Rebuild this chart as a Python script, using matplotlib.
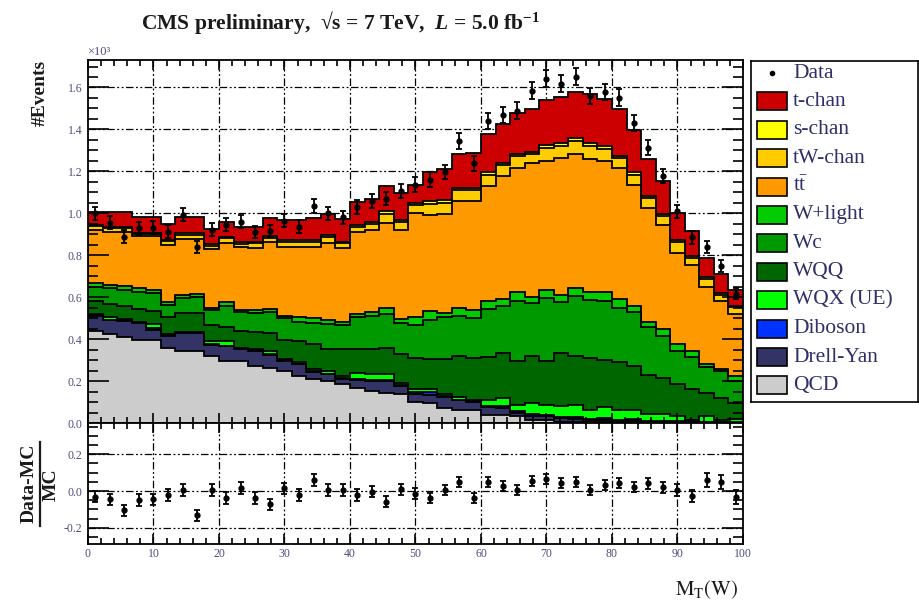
import numpy as np
import matplotlib
matplotlib.use("Agg")
import matplotlib.pyplot as plt
from matplotlib.patches import Rectangle
from matplotlib.lines import Line2D
from matplotlib.ticker import MultipleLocator, FormatStrFormatter

plt.rcParams["font.family"] = ["Liberation Serif", "DejaVu Serif"]
plt.rcParams["mathtext.fontset"] = "custom"
plt.rcParams["mathtext.rm"] = "Liberation Serif:bold"
plt.rcParams["mathtext.it"] = "Liberation Serif:bold:italic"
plt.rcParams["mathtext.bf"] = "Liberation Serif:bold"
plt.rcParams["mathtext.fallback"] = "stix"

# ---- data: M_T(W), 45 bins over 0-100, events per bin ----
MT_RANGE = (0, 100)
NBINS = 45

qcd = [437, 424, 408, 398, 398, 360, 344, 344, 320, 296, 296, 272, 260, 248, 224,
       210, 200, 184, 168, 151, 143, 140, 100, 95, 71, 63, 63, 39, 39, 31,
       15, 15, 7, 5, 4, 3, 2, 2, 1, 1, 0, 0, 0, 0, 0]
drell_yan = [75, 67, 80, 77, 47, 56, 83, 83, 53, 69, 56, 72, 65, 48, 56,
             35, 32, 26, 37, 49, 57, 35, 36, 38, 54, 45, 37, 39, 34, 19,
             20, 20, 15, 15, 11, 12, 8, 8, 5, 5, 4, 8, 3, 2, 2]
diboson = [2, 2, 2, 2, 10, 2, 2, 2, 3, 3, 3, 3, 3, 3, 3,
           3, 4, 4, 4, 4, 4, 4, 12, 13, 3, 2, 4, 5, 10, 5,
           10, 5, 8, 10, 5, 10, 5, 10, 4, 4, 4, 2, 2, 2, 2]
wqx = [6, 11, 6, 3, 17, 6, 3, 3, 16, 21, 5, 8, 16, 6, 7,
       8, 12, 12, 31, 32, 31, 12, 15, 14, 9, 12, 8, 27, 37, 30,
       50, 45, 50, 58, 44, 50, 49, 40, 33, 33, 24, 5, 27, 11, 16]
wqq = [64, 64, 64, 64, 61, 80, 91, 91, 77, 70, 80, 81, 86, 90, 99,
       120, 107, 126, 112, 116, 125, 139, 149, 144, 169, 196, 200, 204, 214, 210,
       223, 211, 253, 232, 246, 225, 226, 210, 187, 172, 153, 148, 110, 102, 73]
wc = [64, 74, 75, 82, 85, 61, 72, 77, 68, 99, 87, 89, 98, 105, 91,
      101, 117, 114, 155, 160, 160, 148, 156, 186, 198, 194, 191, 230, 226, 289,
      253, 301, 245, 284, 276, 284, 260, 260, 227, 201, 159, 150, 126, 129, 107]
wlight = [18, 18, 16, 17, 14, 11, 13, 16, 10, 18, 12, 13, 14, 12, 24,
          23, 18, 18, 15, 16, 28, 18, 36, 43, 19, 37, 36, 40, 32, 43,
          32, 38, 30, 39, 40, 43, 40, 28, 25, 32, 32, 31, 12, 10, 24]
ttbar = [255, 253, 262, 249, 260, 273, 268, 260, 282, 284, 301, 295, 323, 328, 336,
         340, 367, 349, 391, 393, 405, 425, 496, 460, 476, 508, 518, 545, 585, 590,
         635, 614, 657, 638, 635, 622, 627, 575, 543, 497, 433, 408, 368, 325, 296]
tw_chan = [17, 17, 17, 9, 9, 17, 21, 21, 17, 21, 14, 23, 19, 24, 24,
           24, 29, 23, 23, 28, 42, 36, 39, 50, 52, 52, 52, 54, 51, 54,
           44, 62, 58, 63, 62, 59, 46, 50, 46, 41, 53, 36, 38, 30, 32]
s_chan = [7, 7, 7, 4, 4, 7, 8, 8, 7, 8, 7, 9, 8, 9, 9,
          9, 11, 9, 9, 11, 14, 12, 10, 14, 14, 12, 12, 13, 13, 13,
          12, 14, 14, 14, 14, 13, 12, 12, 10, 12, 11, 8, 10, 8, 8]
t_chan = [59, 67, 67, 75, 75, 75, 75, 75, 74, 71, 76, 72, 85, 96, 93,
          104, 98, 110, 111, 110, 119, 129, 85, 141, 144, 160, 165, 181, 184, 194,
          204, 217, 216, 222, 233, 224, 223, 202, 180, 155, 129, 119, 92, 93, 76]

data = [1000, 956, 889, 929, 931, 913, 993, 840, 921, 945, 960, 910, 915, 965, 937,
        1034, 1000, 980, 1030, 1060, 1070, 1105, 1137, 1161, 1196, 1345, 1238, 1442, 1469, 1490,
        1585, 1642, 1618, 1652, 1560, 1579, 1551, 1430, 1313, 1177, 1009, 885, 841, 748, 617]
# (Data-MC)/MC as shown in the lower pad
ratio = [-0.031, -0.045, -0.104, -0.049, -0.045, -0.022, 0.005, -0.131, 0.005, -0.040,
         0.018, -0.040, -0.073, 0.014, -0.022, 0.060, 0.005, 0.005, -0.022, -0.004,
         -0.058, 0.009, -0.015, -0.037, 0.005, 0.050, -0.040, 0.050, 0.027, 0.005,
         0.056, 0.064, 0.044, 0.050, 0.005, 0.033, 0.042, 0.020, 0.042, 0.020,
         0.005, -0.027, 0.060, 0.050, -0.031]

# stack, bottom to top
stack = [
    ("QCD", qcd, "#cccccc"),
    ("Drell-Yan", drell_yan, "#333366"),
    ("Diboson", diboson, "#0033ff"),
    ("WQX (UE)", wqx, "#00ff00"),
    ("WQQ", wqq, "#006600"),
    ("Wc", wc, "#009900"),
    ("W+light", wlight, "#00cc00"),
    (r"t$\mathregular{\bar{t}}$", ttbar, "#ff9900"),
    ("tW-chan", tw_chan, "#ffcc00"),
    ("s-chan", s_chan, "#ffff00"),
    ("t-chan", t_chan, "#cc0000"),
]

TICK_COL = "#4d4d80"
TEXT_COL = "#2f2f6a"
GRID_LS = (0, (6, 2, 1.5, 2, 1.5, 2))

W, H = 920, 606
fig = plt.figure(figsize=(W / 100, H / 100), dpi=100)


def fx(px):
    return px / W


def fy(py):
    return 1 - py / H


edges = np.linspace(MT_RANGE[0], MT_RANGE[1], NBINS + 1)
centers = 0.5 * (edges[:-1] + edges[1:])
data = np.array(data, dtype=float)
ratio = np.array(ratio)

ax = fig.add_axes([fx(88), fy(423), fx(743) - fx(88), fy(60) - fy(423)])
axr = fig.add_axes([fx(88), fy(544.3), fx(743) - fx(88), fy(423) - fy(544.3)])

# stacked histogram
cum = np.zeros(NBINS)
levels = []
for name, vals, col in stack:
    cum = cum + np.array(vals, dtype=float)
    levels.append((cum.copy(), col))
total = cum.copy()
for top, col in reversed(levels):
    ax.stairs(top / 1000, edges, baseline=0, fill=True, color=col, lw=0, zorder=2)
    ax.stairs(top / 1000, edges, baseline=0, color="k", lw=1.3, zorder=2)

ax.errorbar(centers, data / 1000, yerr=np.sqrt(data) / 1000, fmt="o", color="k",
            ms=3.5, capsize=2.5, elinewidth=1.3, capthick=1.3, zorder=5)

axr.errorbar(centers, ratio, yerr=np.sqrt(data) / total, fmt="o", color="k",
             ms=3.5, capsize=2.5, elinewidth=1.3, capthick=1.3, zorder=5)

ax.set_xlim(*MT_RANGE)
ax.set_ylim(0, 1.731)
axr.set_xlim(*MT_RANGE)
axr.set_ylim(-0.29, 0.37)

# dash-dot grid behind everything
for a, yticks in ((ax, np.arange(0.2, 1.7, 0.2)), (axr, [-0.2, 0.0, 0.2])):
    for xv in range(10, 100, 10):
        a.axvline(xv, color="k", lw=0.9, ls=GRID_LS, zorder=0.5)
    for yv in yticks:
        a.axhline(yv, color="k", lw=0.9, ls=GRID_LS, zorder=0.5)
    a.set_axisbelow(False)
    a.xaxis.set_major_locator(MultipleLocator(10))
    a.xaxis.set_minor_locator(MultipleLocator(2))
    a.tick_params(axis="both", which="both", direction="in", top=True, right=True,
                  colors="k", labelcolor=TICK_COL, labelsize=8.5, width=1.2)
    a.tick_params(axis="x", which="major", length=7.5, pad=3)
    a.tick_params(axis="x", which="minor", length=4)
    a.tick_params(axis="y", which="major", length=15, pad=4)
    a.tick_params(axis="y", which="minor", length=7.5)
    for sp in a.spines.values():
        sp.set_linewidth(1.3)
        sp.set_zorder(6)

ax.yaxis.set_major_locator(MultipleLocator(0.2))
ax.yaxis.set_minor_locator(MultipleLocator(0.05))
ax.yaxis.set_major_formatter(FormatStrFormatter("%.1f"))
ax.tick_params(axis="x", labelbottom=False)
axr.yaxis.set_major_locator(MultipleLocator(0.2))
axr.yaxis.set_minor_locator(MultipleLocator(0.05))
axr.yaxis.set_major_formatter(FormatStrFormatter("%.1f"))

# texts
fig.text(fx(340), fy(22), r"CMS preliminary,  √s = 7 TeV,  $L$ = 5.0 fb$^{\mathrm{-1}}$",
         ha="center", va="center", fontsize=15.5, fontweight="bold", color="#1a1a1a")
fig.text(fx(87), fy(52), "×10³", ha="left", va="center", fontsize=9, color=TICK_COL)
fig.text(fx(40), fy(60), "#Events", rotation=90, ha="center", va="top",
         fontsize=14, fontweight="bold", color="#1a1a1a")
fig.text(fx(29), fy(483), "Data-MC", rotation=90, ha="center", va="center",
         fontsize=14, fontweight="bold", color="#1a1a1a")
fig.text(fx(51), fy(485), "MC", rotation=90, ha="center", va="center",
         fontsize=14, fontweight="bold", color="#1a1a1a")
fig.add_artist(Line2D([fx(40), fx(40)], [fy(442), fy(526)], color="#1a1a1a", lw=1.6))
fig.text(fx(707), fy(590), r"$\mathrm{M_{T}(W)}$", ha="center", va="center",
         fontsize=15, color="#1a1a1a", math_fontfamily="stix")

# legend box drawn in pixel coordinates
lg = fig.add_axes([fx(751), fy(402), fx(918) - fx(751), fy(61) - fy(402)])
lg.set_xlim(0, 167)
lg.set_ylim(341, 0)
lg.set_xticks([])
lg.set_yticks([])
for sp in lg.spines.values():
    sp.set_linewidth(1.2)
row_y = 12 + 28.4 * np.arange(len(stack) + 1)
lg.plot([21], [row_y[0]], "o", color="k", ms=3)
lg.text(42, row_y[0], "Data", va="center", ha="left", fontsize=15.5, color=TEXT_COL)
for i, (name, vals, col) in enumerate(reversed(stack)):
    yc = row_y[i + 1]
    lg.add_patch(Rectangle((6, yc - 9), 30, 18, facecolor=col, edgecolor="k", lw=1.2))
    lg.text(42, yc, name, va="center", ha="left", fontsize=15.5, color=TEXT_COL)

fig.savefig("out.png", dpi=100)
